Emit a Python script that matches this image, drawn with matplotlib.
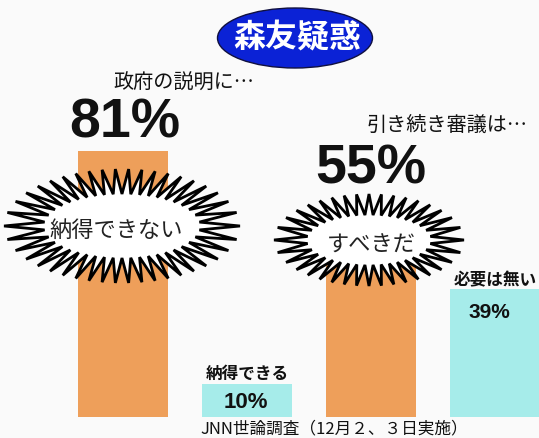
import numpy as np
import matplotlib
matplotlib.use("Agg")
import matplotlib.pyplot as plt
from matplotlib.patches import Polygon, Ellipse

# ---- data ----
categories = ["納得できない", "納得できる", "すべきだ", "必要は無い"]
values = [81, 10, 55, 39]
bar_colors = ["#EE9F5A", "#A6ECEA", "#EE9F5A", "#A6ECEA"]
title = "森友疑惑"
question1 = "政府の説明に…"
question2 = "引き続き審議は…"
source = "JNN世論調査（12月２、３日実施）"

W, H = 539, 438
BG = "#FAFAFA"
JP = ["Noto Sans CJK JP", "DejaVu Sans"]
NUM = ["Liberation Sans", "DejaVu Sans"]

fig = plt.figure(figsize=(W / 100, H / 100), dpi=100, facecolor=BG)
ax = fig.add_axes([0, 0, 1, 1])
ax.set_facecolor(BG)
ax.axis("off")

# axis scaling: bar i centered at pixel 123 + 124*i, baseline at 21 px from bottom
x = np.arange(len(values))
ax.set_xlim(-123 / 124, (W - 123) / 124)
ax.set_ylim(-21 / 3.28, (H - 21) / 3.28)
ax.bar(x, values, width=0.726, color=bar_colors, zorder=1)


def fx(px):
    return px / W


def fy(py):
    return 1 - py / H


def ftext(px, py, s, **kw):
    fig.text(fx(px), fy(py), s, ha="center", va="center", **kw)


def starburst(cx, cy, ao, bo, ai, bi, n):
    # distribute spikes by arc length along mid ellipse
    t = np.linspace(0, 2 * np.pi, 4000)
    am, bm = (ao + ai) / 2, (bo + bi) / 2
    d = np.hypot(-am * np.sin(t), bm * np.cos(t))
    s = np.concatenate([[0], np.cumsum((d[1:] + d[:-1]) / 2 * np.diff(t))])
    targets = np.linspace(0, s[-1], 2 * n, endpoint=False)
    tt = np.interp(targets, s, t)
    verts = []
    for k, tk in enumerate(tt):
        if k % 2 == 0:
            px, py = cx + ao * np.cos(tk), cy + bo * np.sin(tk)
        else:
            px, py = cx + ai * np.cos(tk), cy + bi * np.sin(tk)
        verts.append((fx(px), fy(py)))
    poly = Polygon(verts, closed=True, facecolor="white", edgecolor="black",
                   lw=2.0, joinstyle="miter", transform=fig.transFigure, zorder=5)
    ax.add_patch(poly)


# title ellipse
ell = Ellipse((fx(295), fy(38)), 155 / W, 60 / H, facecolor="#0B22D6",
              edgecolor="#101040", lw=1, transform=fig.transFigure, zorder=5)
ax.add_patch(ell)
ftext(297, 38, title, color="white", fontsize=23, fontweight="bold", family=JP, zorder=6)

# question labels and big percentages
ftext(184, 83, question1, fontsize=14.5, family=JP, color="#111111")
ftext(125, 124, f"{values[0]}%", fontsize=40, fontweight="bold", family=NUM, color="#111111")
ftext(447, 125, question2, fontsize=14.5, family=JP, color="#111111")
ftext(371, 169, f"{values[2]}%", fontsize=40, fontweight="bold", family=NUM, color="#111111")

# starbursts
starburst(122, 226, 118, 57, 78, 32, 42)
ftext(116, 230, categories[0], fontsize=16, family=JP, color="#222222", zorder=7)
starburst(369, 240, 95, 46, 62, 25, 36)
ftext(371, 245, categories[2], fontsize=16, family=JP, color="#222222", zorder=7)

# small bars labels
ftext(495, 280, categories[3], fontsize=12, fontweight="bold", family=JP, color="#111111")
ftext(489, 312, f"{values[3]}%", fontsize=15, fontweight="bold", family=NUM, color="#111111")
ftext(247, 374, categories[1], fontsize=12, fontweight="bold", family=JP, color="#111111")
ftext(246, 402, f"{values[1]}%", fontsize=16, fontweight="bold", family=NUM, color="#111111")

# source
ftext(334, 428.5, source, fontsize=12, family=JP, color="#111111")

fig.savefig("out.png", dpi=100, facecolor=BG)
